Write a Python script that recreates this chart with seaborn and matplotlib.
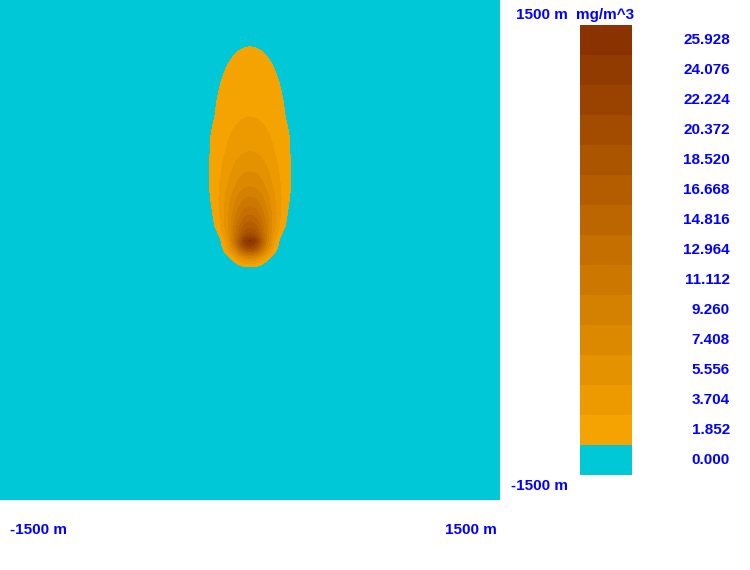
import numpy as np
import matplotlib
matplotlib.use('Agg')
import matplotlib.pyplot as plt
from matplotlib.colors import ListedColormap
import seaborn as sns

# concentration band lower bounds (mg/m^3)
levels = [0.000, 1.852, 3.704, 5.556, 7.408, 9.260, 11.112, 12.964,
          14.816, 16.668, 18.520, 20.372, 22.224, 24.076, 25.928]

# plume centreline: downwind distance (m) -> concentration
src_x, src_y = 0.0, -120.0
dist = [0, 18, 54, 78, 102, 126, 150, 174, 192, 204, 222, 252, 288, 330,
        378, 438, 498, 588, 708, 918, 1338, 1600, 1800]
conc = [0.0, 1.852, 5.556, 9.26, 14.8, 20.4, 24.1, 26.3, 24.1, 22.2, 20.4,
        18.5, 16.7, 14.8, 13.0, 11.1, 9.26, 7.41, 5.56, 3.70, 1.852, 1.2, 0.9]

# crosswind spread (m)
sig_dist = [0, 42, 102, 180, 258, 480, 780, 1080, 1300, 1800]
sigma = [58, 64, 72, 76, 98, 132, 170, 190, 200, 215]

extent = 1500

sns.set_theme(style='white')
plt.rcParams['font.family'] = ['Liberation Sans', 'DejaVu Sans']

cyan = '#00c8d6'
c0 = np.array([245, 163, 0]) / 255
c1 = np.array([138, 50, 0]) / 255
band_colors = [cyan] + [tuple(c0 + (c1 - c0) * t) for t in np.linspace(0, 1, len(levels) - 1)]

fig = plt.figure(figsize=(7.5, 5.7), dpi=100)
W, H = 750, 570

def fpos(x, y):
    return x / W, 1 - y / H

# concentration field
xs = np.linspace(-extent, extent, 601)
ys = np.linspace(-extent, extent, 601)
X, Y = np.meshgrid(xs, ys)
D = Y - src_y
cc = np.interp(D, dist, conc, left=0.0, right=conc[-1])
ss = np.interp(D, sig_dist, sigma)
Z = np.where(D > 0, cc * np.exp(-((X - src_x) ** 2) / (2 * ss ** 2)), 0.0)

ax = fig.add_axes([0, 70 / H, 500 / W, 500 / H])
ax.set_facecolor(cyan)
ax.contourf(X, Y, Z, levels=levels + [1000], colors=band_colors, antialiased=False)
ax.set_xlim(-extent, extent)
ax.set_ylim(-extent, extent)
ax.axis('off')

# legend strip
cax = fig.add_axes([580 / W, (H - 475) / H, 52 / W, 450 / H])
strip = np.arange(len(levels))[::-1].reshape(-1, 1)
sns.heatmap(strip, ax=cax, cmap=ListedColormap(band_colors), cbar=False,
            xticklabels=False, yticklabels=False, vmin=-0.5, vmax=len(levels) - 0.5)

blue = '#0000ff'
tkw = dict(color=blue, fontsize=11, fontweight='bold', va='center')
for i, v in enumerate(levels[::-1]):
    cax.text(2.88, i + 0.5, f'{v:.3f}', transform=cax.get_yaxis_transform(),
             ha='right', **tkw)

fig.text(*fpos(568, 15), f'{extent} m', ha='right', **tkw)
fig.text(*fpos(605, 15), 'mg/m^3', ha='center', **tkw)
fig.text(*fpos(568, 486), f'-{extent} m', ha='right', **tkw)
fig.text(*fpos(10, 530), f'-{extent} m', ha='left', **tkw)
fig.text(*fpos(497, 530), f'{extent} m', ha='right', **tkw)

fig.savefig('out.png', dpi=100, facecolor='white')
